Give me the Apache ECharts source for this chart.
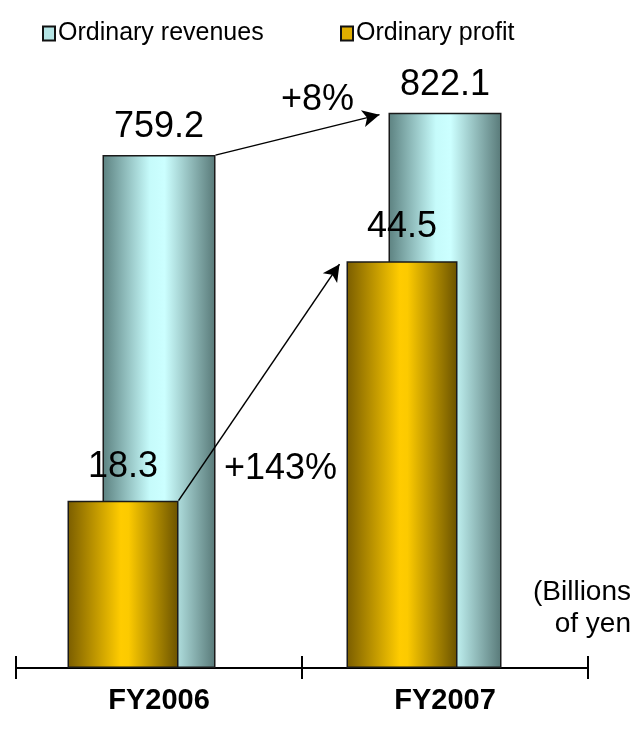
<!DOCTYPE html>
<html>
<head>
<meta charset="utf-8">
<script src="https://cdn.jsdelivr.net/npm/echarts@6/dist/echarts.min.js"></script>
<style>
  html, body { margin: 0; padding: 0; background: #fff; }
  #chart { width: 639px; height: 729px; }
</style>
</head>
<body>
<div id="chart"></div>
<script>
// Fiscal years on the category axis
const categories = ['FY2006', 'FY2007'];
// Ordinary revenues and ordinary profit, billions of yen
const revenues = [759.2, 822.1];
const profits = [18.3, 44.5];
// Year-on-year change annotations
const revenueChange = '+8%';
const profitChange = '+143%';
const unitLines = ['(Billions', 'of yen'];

const FONT = '"Liberation Sans", Arial, sans-serif';

const revenueFill = new echarts.graphic.LinearGradient(0, 0, 1, 0, [
  { offset: 0, color: '#5c8180' },
  { offset: 0.42, color: '#c6fbfb' },
  { offset: 0.55, color: '#ccffff' },
  { offset: 1, color: '#587978' }
]);
const profitFill = new echarts.graphic.LinearGradient(0, 0, 1, 0, [
  { offset: 0, color: '#7a5d00' },
  { offset: 0.48, color: '#ffcc00' },
  { offset: 0.55, color: '#fcca00' },
  { offset: 1, color: '#6a5200' }
]);

// Profit bars sit on a hidden value axis (category index -> x) so that
// they can be shifted left of the revenue bars and overlap them.
const profitPoints = profits.map((v, i) => [i, v]);

const chart = echarts.init(document.getElementById('chart'), null, { renderer: 'canvas' });

const legendText = { fontSize: 25, color: '#000', fontFamily: FONT, padding: [0, 0, 0, -2] };

const option = {
  animation: false,
  backgroundColor: '#ffffff',
  textStyle: { fontFamily: FONT },
  legend: [
    {
      left: 42, top: 21, padding: 0,
      itemWidth: 12, itemHeight: 14, itemGap: 0,
      textStyle: legendText,
      data: [{ name: 'Ordinary revenues', icon: 'rect',
               itemStyle: { color: '#b4e4e4', borderColor: '#111', borderWidth: 2 } }]
    },
    {
      left: 340, top: 21, padding: 0,
      itemWidth: 12, itemHeight: 14, itemGap: 0,
      textStyle: legendText,
      data: [{ name: 'Ordinary profit', icon: 'rect',
               itemStyle: { color: '#e0ae00', borderColor: '#111', borderWidth: 2 } }]
    }
  ],
  grid: [
    { left: 16, right: 51, top: 60, bottom: 61 },
    { left: 0, right: 0, top: 60, bottom: 61 }
  ],
  xAxis: [
    {
      type: 'category', gridIndex: 0, data: categories, position: 'bottom',
      axisLine: { lineStyle: { color: '#000', width: 2 } },
      axisTick: { show: true, length: 11, lineStyle: { color: '#000', width: 2 } },
      axisLabel: { margin: 18, fontSize: 29, fontWeight: 'bold', color: '#000', fontFamily: FONT }
    },
    {
      type: 'value', gridIndex: 1, min: -0.4409, max: 1.8495,
      show: false, splitLine: { show: false }
    },
    {
      // inward half of the crossing tick marks
      type: 'category', gridIndex: 0, data: categories, position: 'bottom',
      axisLine: { show: false },
      axisTick: { show: true, inside: true, length: 12, lineStyle: { color: '#000', width: 2 } },
      axisLabel: { show: false }
    }
  ],
  yAxis: [
    { type: 'value', gridIndex: 0, min: 0, max: 900, show: false, splitLine: { show: false } },
    { type: 'value', gridIndex: 1, min: 0, max: 66.5, show: false, splitLine: { show: false } }
  ],
  series: [
    {
      name: 'Ordinary revenues', type: 'bar',
      xAxisIndex: 0, yAxisIndex: 0,
      data: revenues, barWidth: 113, z: 2,
      itemStyle: { color: revenueFill, borderColor: '#1a1a1a', borderWidth: 1.5 },
      label: {
        show: true, position: 'top', distance: 10,
        fontSize: 36, color: '#000', fontFamily: FONT
      }
    },
    {
      name: 'Ordinary profit', type: 'bar',
      xAxisIndex: 1, yAxisIndex: 1,
      data: profitPoints, barWidth: 111, z: 3,
      itemStyle: { color: profitFill, borderColor: '#1a1a1a', borderWidth: 1.5 },
      label: {
        show: true, position: 'top', distance: 16,
        fontSize: 36, color: '#000', fontFamily: FONT,
        formatter: (p) => String(p.value[1])
      }
    }
  ],
  graphic: [
    { type: 'text', left: 281, top: 82,
      style: { text: revenueChange, font: '36px ' + FONT, fill: '#000' } },
    { type: 'text', left: 224, top: 451,
      style: { text: profitChange, font: '36px ' + FONT, fill: '#000' } },
    { type: 'text', right: 8, top: 578,
      style: { text: unitLines[0], font: '28px ' + FONT, fill: '#000', textAlign: 'right' } },
    { type: 'text', right: 8, top: 610,
      style: { text: unitLines[1], font: '28px ' + FONT, fill: '#000', textAlign: 'right' } }
  ]
};

chart.setOption(option);

// Growth arrows run from the top-right corner of each FY2006 bar
// to just short of the top-left corner of the matching FY2007 bar.
function revenueTop(i, side) {
  const p = chart.convertToPixel({ xAxisIndex: 0, yAxisIndex: 0 }, [categories[i], revenues[i]]);
  return [p[0] + side * 56.5, p[1]];
}
function profitTop(i, side) {
  const p = chart.convertToPixel({ xAxisIndex: 1, yAxisIndex: 1 }, profitPoints[i]);
  return [p[0] + side * 55.5, p[1]];
}

const r0 = revenueTop(0, 1);
const r1 = revenueTop(1, -1);
const p0 = profitTop(0, 1);
const p1 = profitTop(1, -1);

chart.setOption({
  series: [
    {},
    {
      markLine: {
        silent: true,
        symbol: ['none', 'arrow'],
        symbolSize: [13, 17],
        label: { show: false },
        lineStyle: { color: '#000', width: 1.5, type: 'solid' },
        emphasis: { disabled: true },
        data: [
          [{ x: r0[0], y: r0[1] }, { x: r1[0] - 9, y: r1[1] + 2 }],
          [{ x: p0[0], y: p0[1] }, { x: p1[0] - 7, y: p1[1] + 3 }]
        ]
      }
    }
  ]
});
</script>
</body>
</html>
